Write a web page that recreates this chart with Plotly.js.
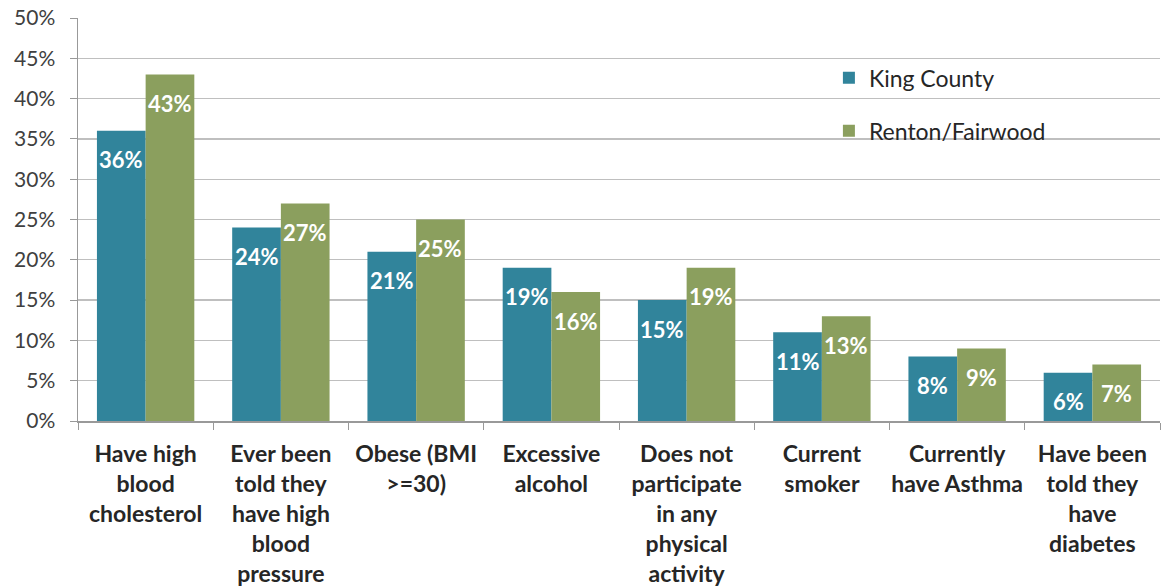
<!DOCTYPE html>
<html><head><meta charset="utf-8">
<script src="https://cdn.plot.ly/plotly-3.0.1.min.js"></script>
<style>body{margin:0;background:#fff}#c{width:1165px;height:588px}</style>
</head><body><div id="c"></div>
<script>
const categories = ["Have high<br>blood<br>cholesterol","Ever been<br>told they<br>have high<br>blood<br>pressure","Obese (BMI<br>>=30)","Excessive<br>alcohol","Does not<br>participate<br>in any<br>physical<br>activity","Current<br>smoker","Currently<br>have Asthma","Have been<br>told they<br>have<br>diabetes"];
const kingCounty = [0.36,0.24,0.21,0.19,0.15,0.11,0.08,0.06];
const renton = [0.43,0.27,0.25,0.16,0.19,0.13,0.09,0.07];
const seriesNames = ["King County","Renton/Fairwood"];
const yTicks = [0,0.05,0.1,0.15,0.2,0.25,0.3,0.35,0.4,0.45,0.5];

const F = "Lato, 'Open Sans', sans-serif";
const BARGAP = 0.28;
const colors = ['#31849B','#8B9F5E'];
function tr(vals,name,color,g){
  return {type:'bar',x:categories,y:vals,name:name,marker:{color:color},legendgroup:g,hoverinfo:'skip'};
}
const data=[tr(kingCounty,seriesNames[0],colors[0],'a'),tr(renton,seriesNames[1],colors[1],'b')];
const off = (1-BARGAP)/4;
const annotations=[];
[kingCounty,renton].forEach((vals,s)=>{
  vals.forEach((v,i)=>{
    annotations.push({x:i+(s===0?-off:off),y:v,xref:'x',yref:'y',text:'<b>'+Math.round(v*100)+'%</b>',
      showarrow:false,yanchor:'middle',xanchor:'center',yshift:-29,
      font:{family:F,size:22,color:'#fff'}});
  });
});
const layout={
  width:1165,height:588,margin:{l:78,r:5,t:18,b:167},
  paper_bgcolor:'#fff',plot_bgcolor:'#fff',
  barmode:'group',bargap:BARGAP,bargroupgap:0,
  showlegend:true,
  legend:{x:0.694,y:0.905,xanchor:'left',yanchor:'top',bgcolor:'rgba(0,0,0,0)',font:{family:F,size:23,color:'#262626'},
    tracegroupgap:20,itemwidth:30,traceorder:'grouped'},
  shapes:[{type:'rect',xref:'paper',yref:'paper',x0:(800-78)/1082,x1:(1110-78)/1082,y0:(421-165)/403,y1:(421-42)/403,
    fillcolor:'#fff',line:{width:0},layer:'between'}],
  annotations:annotations,
  xaxis:{tickfont:{family:F,size:23,color:'#262626',weight:'bold'},tickangle:0,showline:true,linecolor:'#999',linewidth:1.5,
    ticks:'outside',tickson:'boundaries',ticklen:7,tickcolor:'#999',showgrid:false,automargin:false,ticklabelstandoff:12},
  yaxis:{range:[0,0.5],tickvals:yTicks,tickformat:'.0%',tickfont:{family:F,size:21,color:'#404040'},
    showgrid:true,gridcolor:'#bfbfbf',gridwidth:1.3,showline:true,linecolor:'#999',linewidth:1.5,
    ticks:'outside',ticklen:7,tickcolor:'#999',zeroline:false,automargin:false,ticklabelstandoff:10}
};
Plotly.newPlot('c',data,layout,{staticPlot:true});
</script></body></html>
